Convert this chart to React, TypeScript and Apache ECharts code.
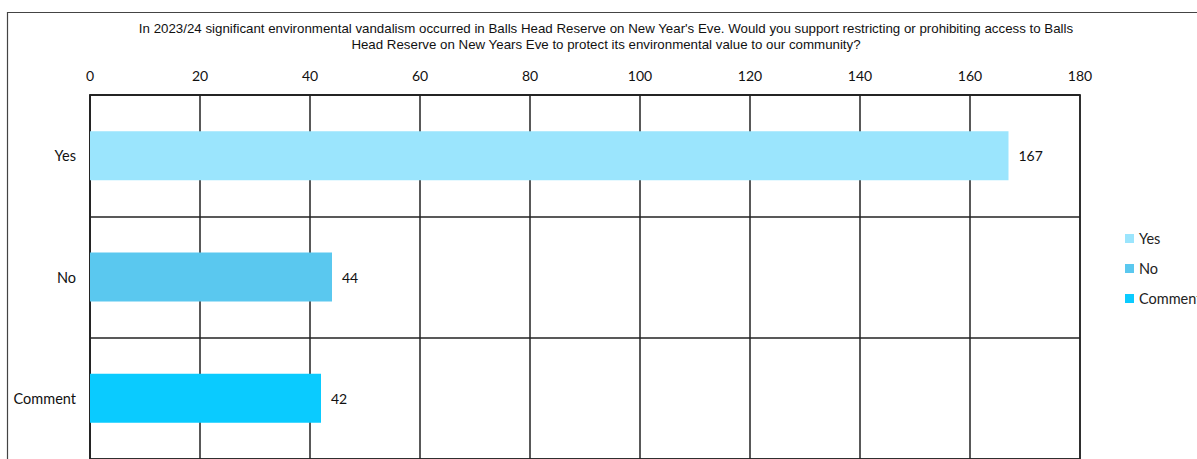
import React, { useEffect, useRef } from "react";
import * as echarts from "echarts";

const categories = ["Yes", "No", "Comment"];
const yesValues = [167, null, null];
const noValues = [null, 44, null];
const commentValues = [null, null, 42];
const seriesNames = ["Yes", "No", "Comment"];
const seriesColors = ["#9BE5FD", "#5AC8EF", "#0ACBFF"];
const titleText =
  "In 2023/24 significant environmental vandalism occurred in Balls Head Reserve on New Year's Eve. Would you support restricting or prohibiting access to Balls\nHead Reserve on New Years Eve to protect its environmental value to our community?";

export default function App() {
  const ref = useRef<HTMLDivElement>(null);
  useEffect(() => {
    if (!ref.current) return;
    const chart = echarts.init(ref.current, null, { renderer: "svg" });
    const values = [yesValues, noValues, commentValues];
    chart.setOption({
      animation: false,
      backgroundColor: "#fff",
      title: {
        text: titleText,
        left: 601,
        top: 15,
        textAlign: "center",
        textStyle: {
          fontFamily: "Liberation Sans",
          fontSize: 13.3,
          fontWeight: "normal",
          color: "#111",
          lineHeight: 16,
        },
      },
      legend: {
        orient: "vertical",
        left: 1125,
        top: 231,
        padding: 0,
        itemWidth: 9,
        itemHeight: 9,
        itemGap: 15,
        icon: "rect",
        data: seriesNames,
        textStyle: { fontFamily: "Lato", fontSize: 14.5, color: "#222" },
      },
      graphic: [
        {
          type: "rect",
          shape: { x: 7.5, y: 12.5, width: 1300, height: 600 },
          style: { fill: "none", stroke: "#444", lineWidth: 1.2 },
          silent: true,
        },
      ],
      grid: {
        left: 90,
        top: 95,
        width: 990,
        height: 368,
        show: true,
        borderColor: "#222",
        borderWidth: 1.5,
      },
      xAxis: {
        type: "value",
        position: "top",
        min: 0,
        max: 180,
        interval: 20,
        axisLine: { show: true, lineStyle: { color: "#222", width: 1.5 } },
        axisTick: { show: false },
        axisLabel: { margin: 13, fontFamily: "Lato", fontSize: 14, color: "#111" },
        splitLine: { show: true, lineStyle: { color: "#222", width: 1.5 } },
      },
      yAxis: {
        type: "category",
        data: categories,
        inverse: true,
        axisLine: { show: true, lineStyle: { color: "#222", width: 1.5 } },
        axisTick: { show: false },
        axisLabel: { margin: 14, fontFamily: "Lato", fontSize: 14.5, color: "#111" },
        splitLine: { show: true, lineStyle: { color: "#222", width: 1.5 } },
      },
      series: seriesNames.map((name, i) => ({
        name,
        type: "bar",
        stack: "total",
        barWidth: 49,
        data: values[i],
        itemStyle: { color: seriesColors[i] },
        label: {
          show: true,
          position: "right",
          distance: 10,
          fontFamily: "Lato",
          fontSize: 14,
          color: "#111",
          formatter: (p: any) => (p.value == null ? "" : String(p.value)),
        },
      })),
    });
    return () => chart.dispose();
  }, []);
  return (
    <div
      ref={ref}
      style={{ position: "fixed", left: 0, top: 0, width: 1197, height: 459 }}
    />
  );
}
